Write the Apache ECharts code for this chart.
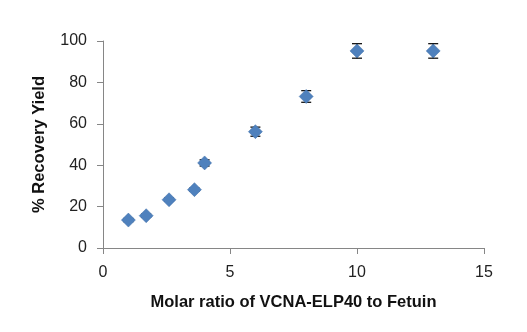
<!DOCTYPE html>
<html>
<head>
<meta charset="utf-8">
<script src="https://cdn.jsdelivr.net/npm/echarts@6/dist/echarts.min.js"></script>
<style>
  html, body { margin: 0; padding: 0; background: #fff; }
  #chart { width: 527px; height: 332px; }
</style>
</head>
<body>
<div id="chart"></div>
<script>
// molar ratio vs recovery yield, with +/- error
var ratios = [1, 1.7, 2.6, 3.6, 4, 6, 8, 10, 13];
var yields = [13.5, 15.6, 23.3, 28.2, 41.1, 56.2, 73.2, 95.2, 95.2];
var errors = [0.8, 0.8, 0.8, 0.8, 1.5, 2.2, 2.8, 3.5, 3.5];

var chart = echarts.init(document.getElementById('chart'));

var points = ratios.map(function (r, i) { return [r, yields[i]]; });
var errData = ratios.map(function (r, i) { return [r, yields[i] - errors[i], yields[i] + errors[i]]; });

var axisFont = { fontFamily: 'Liberation Sans', fontSize: 16, color: '#222' };
var titleFont = { fontFamily: 'Liberation Sans', fontSize: 16.5, fontWeight: 'bold', color: '#111' };

var option = {
    animation: false,
    grid: { left: 103, right: 43, top: 41, bottom: 84 },
    xAxis: {
        type: 'value',
        min: 0, max: 15, interval: 5,
        name: 'Molar ratio of VCNA-ELP40 to Fetuin',
        nameLocation: 'middle',
        nameGap: 46,
        nameTextStyle: titleFont,
        axisLine: { lineStyle: { color: '#868686', width: 1 } },
        axisTick: { show: true, inside: false, length: 6, lineStyle: { color: '#868686' } },
        axisLabel: Object.assign({ margin: 17 }, axisFont),
        splitLine: { show: false }
    },
    yAxis: {
        type: 'value',
        min: 0, max: 100, interval: 20,
        name: '% Recovery Yield',
        nameLocation: 'middle',
        nameGap: 55,
        nameTextStyle: titleFont,
        axisLine: { show: true, lineStyle: { color: '#868686', width: 1 } },
        axisTick: { show: true, inside: false, length: 6, lineStyle: { color: '#868686' } },
        axisLabel: Object.assign({ margin: 16 }, axisFont),
        splitLine: { show: false }
    },
    series: [
        {
            type: 'custom',
            data: errData,
            z: 1,
            renderItem: function (params, api) {
                var x = api.value(0);
                var lo = api.coord([x, api.value(1)]);
                var hi = api.coord([x, api.value(2)]);
                var w = 5;
                var st = { stroke: '#000', lineWidth: 1.2 };
                return {
                    type: 'group',
                    children: [
                        { type: 'line', shape: { x1: lo[0], y1: lo[1], x2: hi[0], y2: hi[1] }, style: st },
                        { type: 'line', shape: { x1: lo[0] - w, y1: lo[1], x2: lo[0] + w, y2: lo[1] }, style: st },
                        { type: 'line', shape: { x1: hi[0] - w, y1: hi[1], x2: hi[0] + w, y2: hi[1] }, style: st }
                    ]
                };
            }
        },
        {
            type: 'scatter',
            data: points,
            z: 2,
            symbol: 'diamond',
            symbolSize: [14, 14],
            itemStyle: { color: '#4f81bd', opacity: 1, borderColor: '#3f6fa8', borderWidth: 0.5 }
        }
    ]
};

chart.setOption(option);
</script>
</body>
</html>
